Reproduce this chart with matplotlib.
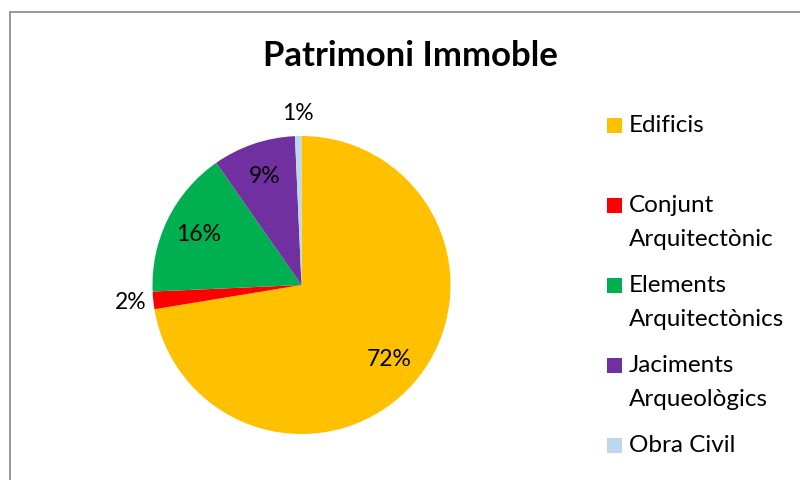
import matplotlib
matplotlib.use("Agg")
import matplotlib.pyplot as plt
from matplotlib.patches import Rectangle
import numpy as np

title = "Patrimoni Immoble"
categories = ["Edificis", "Conjunt\nArquitectònic", "Elements\nArquitectònics",
              "Jaciments\nArqueològics", "Obra Civil"]
values = [72.4, 1.9, 16.0, 9.0, 0.7]
colors = ["#FFC000", "#FF0000", "#00B050", "#7030A0", "#BDD7EE"]

FONT = "Lato"
W, H = 800, 480
fig = plt.figure(figsize=(8, 4.8), dpi=100)
ax = fig.add_axes([0, 0, 1, 1])

cx, cy, r = 301.5, H - 285, 149
wedges, texts, autotexts = ax.pie(
    values, colors=colors, startangle=90, counterclock=False,
    center=(cx, cy), radius=r, autopct="%.0f%%", pctdistance=0.77,
    wedgeprops=dict(linewidth=0), frame=True,
    textprops=dict(fontsize=16.5, family=FONT, color="black"))
ax.set_xlim(0, W)
ax.set_ylim(0, H)
ax.set_aspect("equal")
ax.axis("off")

# move small-slice labels outside
for w, t, v in zip(wedges, autotexts, values):
    if v < 3:
        ang = np.deg2rad((w.theta1 + w.theta2) / 2)
        d = 1.15 * r
        t.set_position((cx + d * np.cos(ang), cy + d * np.sin(ang)))

ax.text(410, H - 56, title, ha="center", va="center", fontsize=25,
        fontweight="bold", family=FONT)

# legend
y0 = 125
for i, (lab, col) in enumerate(zip(categories, colors)):
    yc = y0 + 80 * i
    ax.add_patch(Rectangle((607, H - yc - 7.5), 15, 15, facecolor=col,
                           edgecolor="none"))
    for j, line in enumerate(lab.split("\n")):
        ax.text(629, H - (yc + 34 * j), line, ha="left", va="center",
                fontsize=17.5, family=FONT)

# chart border
ax.add_patch(Rectangle((9.5, -20), 820, H - 11.5 + 20, facecolor="none",
                       edgecolor="#868686", linewidth=1.2, clip_on=False))

fig.savefig("out.png", dpi=100)
